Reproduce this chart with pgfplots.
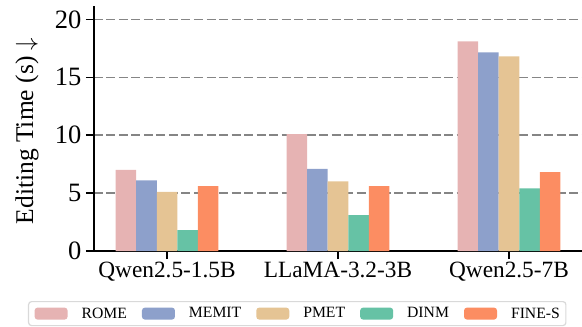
\documentclass[border=0pt]{standalone}
\usepackage{fontspec}
\setmainfont{Liberation Serif}
\usepackage{pgfplots}
\pgfplotsset{compat=1.18}

\definecolor{cRome}{HTML}{E6B3B3}
\definecolor{cMemit}{HTML}{8DA0CB}
\definecolor{cPmet}{HTML}{E5C494}
\definecolor{cDinm}{HTML}{66C2A5}
\definecolor{cFine}{HTML}{FC8D62}
\definecolor{gridgray}{HTML}{858585}
\definecolor{legendgray}{HTML}{D9D9D9}

\begin{document}
\begin{tikzpicture}
\begin{axis}[
  scale only axis,
  width=488bp, height=245bp,
  xmin=-0.427, xmax=2.427,
  ymin=0, ymax=21.15,
  ybar=0pt, bar width=0.12,
  axis x line*=bottom, axis y line*=left,
  axis line style={line width=1.6bp, black, -},
  tick style={line width=1.4bp, black},
  tick align=outside, major tick length=8bp,
  xtick={0,1,2},
  xticklabels={Qwen2.5-1.5B, LLaMA-3.2-3B, Qwen2.5-7B},
  ytick={0,5,10,15,20},
  ymajorgrids,
  grid style={dashed, gridgray, line width=1.4bp, dash pattern=on 9bp off 3.5bp},
  /pgf/number format/assume math mode=true,
  xticklabel style={font=\fontsize{23.3bp}{26bp}\selectfont},
  yticklabel style={font=\fontsize{26.5bp}{29bp}\selectfont, xshift=-1bp},
  ylabel={Editing Time (s) $\downarrow$},
  ylabel style={font=\fontsize{25.5bp}{29bp}\selectfont, at={(axis description cs:-0.137,0.49)}, anchor=center, rotate=0},
  legend columns=5,
  legend style={
    at={(axis description cs:0,0)}, anchor=north west,
    xshift=-66bp, yshift=-50bp,
    draw=legendgray, line width=1.2bp, rounded corners=3bp,
    font=\fontsize{15.7bp}{18bp}\selectfont,
    inner xsep=6bp, inner ysep=6bp,
    nodes={inner sep=0pt, anchor=west},
    /tikz/every odd column/.append style={column sep=14bp},
    /tikz/every even column/.append style={column sep=15bp},
  },
  legend image code/.code={\fill[#1] (0bp,-6bp) rectangle (33bp,6bp);},
  clip=false,
]
\addplot[draw=none, fill=cRome] coordinates {(0,7.0) (1,10.1) (2,18.1)};
\addplot[draw=none, fill=cMemit] coordinates {(0,6.1) (1,7.1) (2,17.15)};
\addplot[draw=none, fill=cPmet] coordinates {(0,5.1) (1,6.0) (2,16.8)};
\addplot[draw=none, fill=cDinm] coordinates {(0,1.8) (1,3.1) (2,5.4)};
\addplot[draw=none, fill=cFine] coordinates {(0,5.6) (1,5.6) (2,6.8)};
\legend{ROME, MEMIT, PMET, DINM, FINE-S}
\end{axis}
\pgfresetboundingbox
\path[use as bounding box] (-94bp,-76bp) rectangle (488bp,251bp);
\end{tikzpicture}
\end{document}
